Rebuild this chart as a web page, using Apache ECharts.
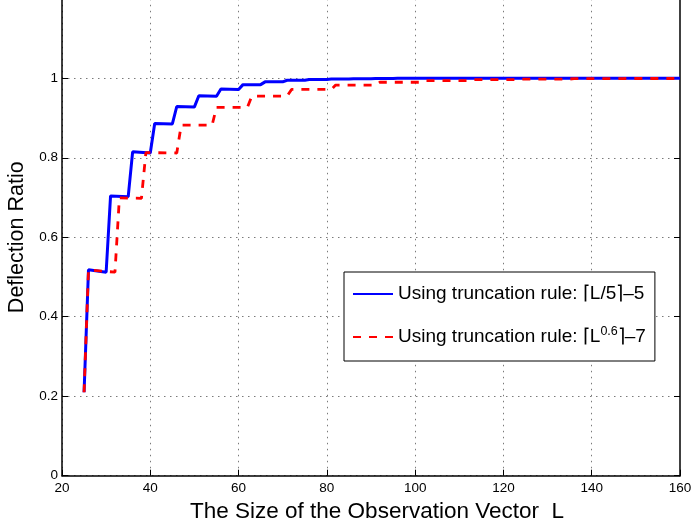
<!DOCTYPE html>
<html>
<head>
<meta charset="utf-8">
<script src="https://cdn.jsdelivr.net/npm/echarts@6/dist/echarts.min.js"></script>
<style>html,body{margin:0;padding:0;background:#fff;}#c{width:693px;height:524px;}</style>
</head>
<body>
<div id="c"></div>
<script>
// Breakpoints [L, deflection ratio]
var blueSeries = [
  [25,0.21],[26,0.518],[30,0.512],[31,0.704],[35,0.702],[36,0.815],[40,0.812],
  [41,0.886],[45,0.885],[46,0.929],[50,0.928],[51,0.956],[55,0.955],[56,0.973],
  [60,0.972],[61,0.984],[65,0.984],[66,0.991],[70,0.991],[71,0.995],[75,0.995],
  [76,0.997],[80,0.997],[81,0.998],[85,0.998],[86,0.999],[90,0.999],[91,0.9995],
  [95,0.9995],[96,1.0],[160,1.0]
];
var redSeries = [
  [25,0.21],[26,0.518],[32,0.512],[33,0.699],[38,0.698],[39,0.813],[46,0.812],
  [47,0.882],[54,0.882],[55,0.927],[62,0.927],[63,0.955],[71,0.955],[72,0.972],
  [81,0.972],[82,0.983],[91,0.983],[92,0.990],[101,0.990],[102,0.994],[112,0.994],
  [113,0.9965],[123,0.9965],[124,0.998],[135,0.998],[136,0.999],[147,0.999],
  [148,0.9995],[159,0.9995],[160,1.0]
];
var seriesNames = ['rule1', 'rule2'];
var xTicks = {min: 20, max: 160, interval: 20};
var yTicks = {min: 0, max: 1.2, interval: 0.2};

var FONT = '"Liberation Sans", Arial, Helvetica, sans-serif';
var chart = echarts.init(document.getElementById('c'), null, {renderer: 'canvas'});
var gridLine = {show: true, showMaxLine: false, lineStyle: {color: '#7a7a7a', width: 1, type: [1.5, 4.5]}};
var axisLine = {show: true, onZero: false, lineStyle: {color: '#000', width: 1.5}};
var axisTick = {show: true, inside: true, length: 6, lineStyle: {color: '#000', width: 1}};

chart.setOption({
  animation: false,
  backgroundColor: '#fff',
  grid: {left: 62, right: 13, top: -1.2, bottom: 48.3, containLabel: false, outerBoundsMode: 'none'},
  xAxis: [{
    type: 'value', min: xTicks.min, max: xTicks.max, interval: xTicks.interval,
    axisLine: axisLine, axisTick: axisTick, splitLine: gridLine,
    axisLabel: {color: '#000', fontFamily: FONT, fontSize: 13.5, margin: 6},
    name: 'The Size of the Observation Vector  L', nameLocation: 'middle', nameGap: 20,
    nameTextStyle: {color: '#000', fontFamily: FONT, fontSize: 22.5, padding: [0, 0, 0, 12]}
  }],
  yAxis: [{
    type: 'value', min: yTicks.min, max: yTicks.max, interval: yTicks.interval,
    axisLine: axisLine, axisTick: axisTick, splitLine: gridLine,
    axisLabel: {color: '#000', fontFamily: FONT, fontSize: 13.5, margin: 4, showMaxLabel: false},
    name: 'Deflection Ratio', nameLocation: 'middle', nameGap: 29, nameRotate: 90,
    nameTextStyle: {color: '#000', fontFamily: FONT, fontSize: 21.5}
  }, {
    type: 'value', position: 'right', min: yTicks.min, max: yTicks.max, interval: yTicks.interval,
    axisLine: axisLine, axisTick: axisTick, splitLine: {show: false}, axisLabel: {show: false}
  }],
  legend: {
    data: seriesNames, orient: 'vertical', left: 344, top: 272,
    padding: [10, 9, 12, 8], itemWidth: 40, itemHeight: 14, itemGap: 19,
    borderColor: '#000', borderWidth: 1, backgroundColor: '#fff',
    itemStyle: {opacity: 0},
    textStyle: {
      color: '#000', fontFamily: FONT, fontSize: 19, lineHeight: 24,
      rich: {
        n: {color: '#000', fontFamily: FONT, fontSize: 19, lineHeight: 24},
        s: {color: '#000', fontFamily: FONT, fontSize: 12.5, lineHeight: 12, verticalAlign: 'top'}
      }
    },
    formatter: function (name) {
      if (name === 'rule1') return '{n|Using truncation rule: \u2308L/5\u2309\u20135}';
      return '{n|Using truncation rule: \u2308L}{s|0.6}{n|\u2309\u20137}';
    }
  },
  series: [{
    name: 'rule1', type: 'line', data: blueSeries, symbol: 'none', showSymbol: false,
    lineStyle: {color: '#0000ff', width: 3}, itemStyle: {color: '#0000ff'}
  }, {
    name: 'rule2', type: 'line', data: redSeries, symbol: 'none', showSymbol: false,
    lineStyle: {color: '#ff0000', width: 2.8, type: [8, 8]}, itemStyle: {color: '#ff0000'}
  }]
});
</script>
</body>
</html>
